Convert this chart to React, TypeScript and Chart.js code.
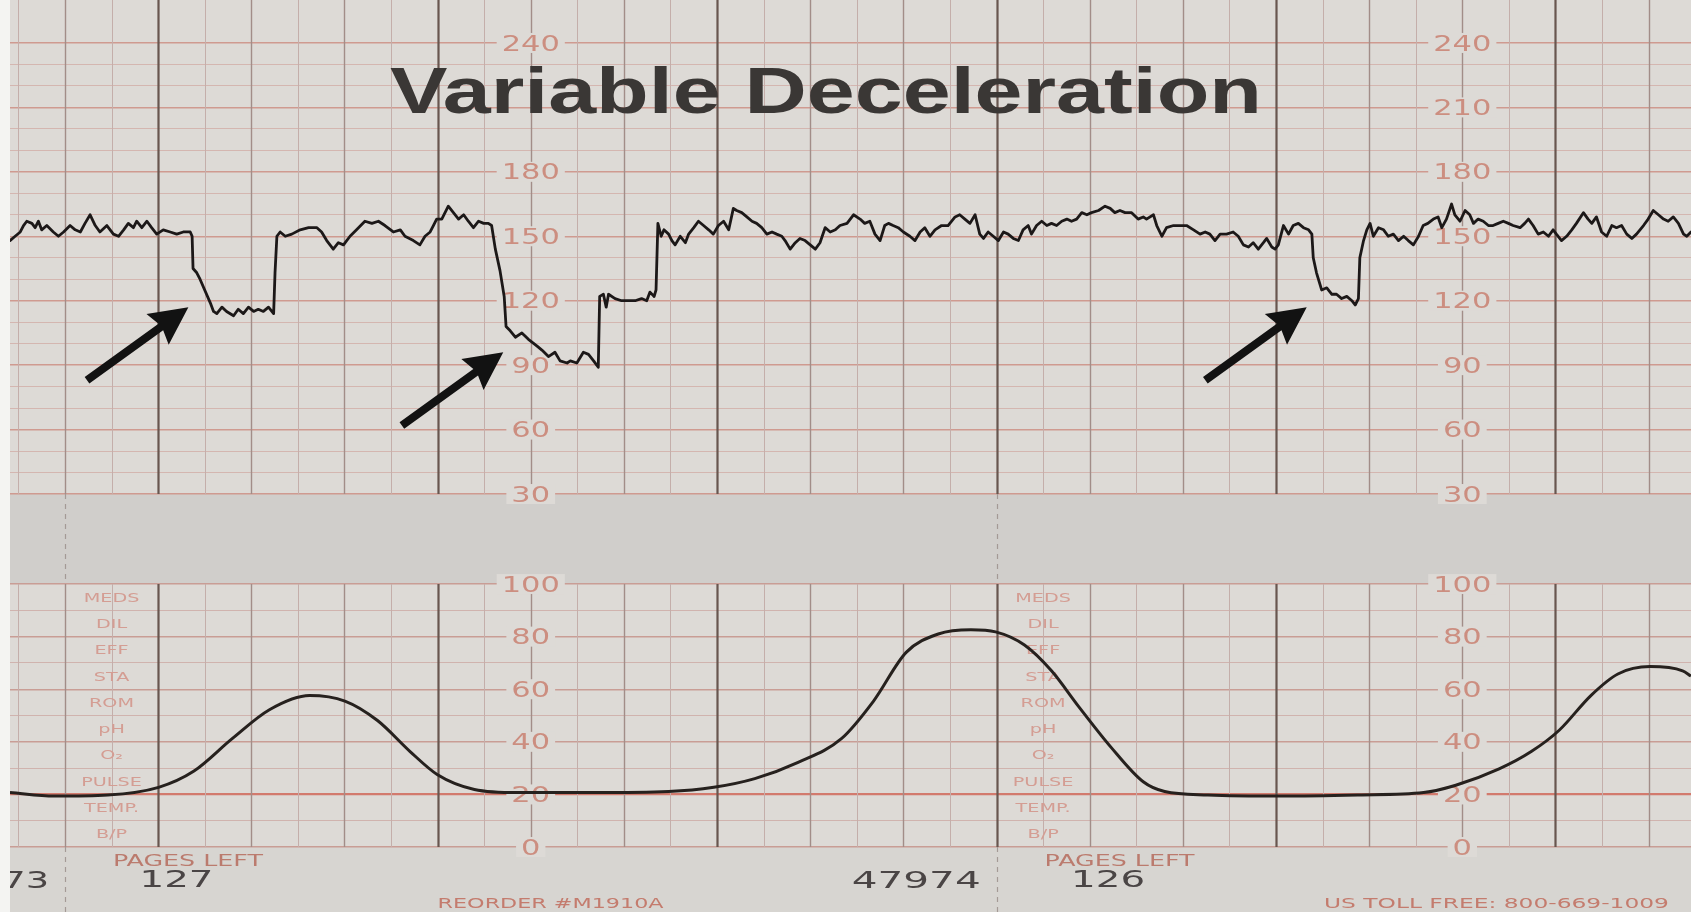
import { useEffect, useRef } from "react";
import { Chart, registerables } from "chart.js";

Chart.register(...registerables);

// ---------- DATA ----------
// time in seconds (0 = first bold minute line), fetal heart rate in bpm
const fhrTime = [
  -31.8, -30.7, -29.6, -28.9, -28.2, -27.1, -26.4, -25.7, -25.0, -23.9, -22.5, -21.4, -20.3, -18.9, -17.8, -16.7,
  -15.7, -14.6, -13.5, -12.5, -11.0, -9.6, -8.5, -7.4, -6.4, -5.3, -4.6, -3.5, -2.4, -1.4, -0.3, 1.1, 2.6, 4.0,
  5.4, 6.9, 7.3, 7.5, 8.3, 9.0, 11.2, 11.9, 12.6, 13.7, 14.7, 16.2, 17.2, 18.3, 19.4, 20.5, 21.5, 22.6, 23.7, 24.8,
  25.1, 25.5, 26.2, 27.3, 28.7, 30.5, 32.3, 34.1, 35.1, 36.2, 37.6, 38.7, 39.8, 41.2, 42.6, 44.4, 45.9, 47.3, 48.7,
  50.5, 52.0, 53.0, 54.8, 56.2, 57.3, 58.4, 59.1, 59.8, 60.9, 62.3, 63.4, 64.5, 65.6, 66.6, 67.7, 68.8, 69.9, 70.9,
  71.6, 72.4, 73.4, 74.3, 74.7, 75.6, 76.7, 78.1, 79.5, 81.3, 82.4, 83.8, 85.2, 86.3, 87.8, 88.5, 89.9, 91.3, 92.4,
  93.5, 94.5, 94.8, 95.6, 96.2, 96.7, 98.1, 99.5, 101.0, 102.4, 103.8, 104.9, 105.6, 106.5, 106.9, 107.3, 108.0,
  108.6, 109.6, 110.3, 111.0, 112.1, 113.2, 113.9, 115.0, 116.0, 117.1, 118.2, 119.2, 120.3, 121.4, 122.5, 123.5,
  124.2, 125.3, 126.4, 127.5, 128.5, 129.6, 130.7, 131.8, 132.8, 133.9, 134.6, 135.7, 136.8, 137.8, 138.9, 140.0,
  141.1, 142.1, 143.2, 144.3, 145.4, 146.4, 147.9, 149.3, 150.7, 151.7, 152.8, 153.9, 155.0, 156.0, 156.8, 157.8,
  158.9, 160.0, 161.4, 162.5, 163.6, 164.6, 165.7, 166.8, 168.2, 169.6, 171.1, 172.1, 173.2, 174.3, 175.4, 176.4,
  177.2, 178.2, 179.3, 180.4, 181.5, 182.5, 183.6, 184.7, 185.7, 186.8, 187.5, 188.6, 189.7, 190.8, 191.8, 192.9,
  194.0, 195.1, 196.1, 197.2, 198.3, 199.4, 200.4, 201.9, 203.3, 204.4, 205.4, 206.5, 207.6, 209.0, 210.4, 211.5,
  212.2, 213.7, 214.4, 215.5, 216.5, 218.0, 219.4, 220.8, 222.3, 223.7, 224.8, 225.8, 226.9, 228.0, 229.4, 230.8,
  231.9, 233.0, 234.1, 235.1, 236.2, 237.3, 238.0, 239.1, 239.8, 240.5, 241.6, 242.7, 243.7, 244.8, 245.9, 247.0,
  247.7, 248.0, 248.7, 249.8, 250.9, 252.0, 253.0, 254.1, 255.2, 256.3, 257.0, 257.7, 258.0, 258.8, 259.5, 260.2,
  260.9, 262.0, 263.1, 264.1, 265.2, 266.3, 267.4, 268.4, 269.5, 270.6, 271.6, 272.6, 273.8, 274.8, 275.6, 276.6,
  277.7, 278.4, 279.5, 280.6, 281.6, 282.4, 283.4, 284.5, 285.6, 286.6, 287.7, 288.8, 289.9, 290.9, 292.4, 293.4,
  294.2, 295.2, 296.3, 297.4, 298.5, 299.5, 300.2, 301.3, 302.4, 303.5, 304.5, 306.0, 307.0, 307.8, 308.8, 309.9,
  311.0, 312.1, 313.1, 314.2, 315.3, 316.4, 317.4, 318.9, 319.9, 321.0, 322.1, 323.2, 324.2, 325.3, 326.4, 327.5,
  328.2, 329.1,
];
const fhrBpm = [
  148, 150, 152, 155, 157, 156, 154, 157, 153, 155, 152, 150, 152, 155, 153, 152,
  156, 160, 155, 152, 155, 151, 150, 153, 156, 154, 157, 154, 157, 154, 151, 153, 152, 151,
  152, 152, 150, 135, 133, 130, 119, 115, 114, 117, 115, 113, 116, 114, 117, 115, 116, 115, 117, 114,
  133, 150, 152, 150, 151, 153, 154, 154, 152, 148, 144, 147, 146, 150, 153, 157, 156, 157, 155,
  152, 153, 150, 148, 146, 150, 152, 155, 158, 158, 164, 161, 158, 160, 157, 154, 157, 156, 156,
  155, 144, 134, 122, 108, 106, 103, 105, 102, 99, 97, 94, 96, 92, 91, 92, 91, 96, 95,
  92, 89, 122, 123, 117, 123, 121, 120, 120, 120, 121, 120, 124, 122, 125, 156, 150,
  153, 151, 148, 146, 150, 147, 151, 154, 157, 155, 153, 151, 155, 157, 153, 163,
  162, 161, 159, 157, 156, 154, 151, 152, 151, 150, 148, 144, 147, 149, 148, 146,
  144, 147, 154, 152, 153, 155, 156, 160, 158, 156, 157, 151, 148, 155, 156, 155,
  154, 152, 150, 148, 152, 154, 150, 153, 155, 155, 159, 160, 158, 156, 160, 151,
  149, 152, 150, 148, 152, 151, 149, 148, 153, 155, 151, 155, 157, 155, 156, 155,
  157, 158, 157, 158, 161, 160, 161, 162, 164, 163, 161, 162, 161, 161, 158, 159,
  158, 160, 155, 150, 154, 155, 155, 155, 153, 151, 152, 151, 148, 151, 151, 152,
  150, 146, 145, 147, 144, 147, 149, 145, 144, 146, 155, 151, 155, 156, 154, 153,
  151, 140, 133, 125, 126, 123, 123, 121, 122, 120, 118, 121, 140, 148, 153, 156,
  150, 154, 153, 150, 151, 148, 150, 148, 146, 150, 155, 156, 158, 159, 154, 158,
  165, 160, 157, 162, 160, 156, 158, 157, 155, 155, 156, 157, 156, 155, 154, 156,
  158, 155, 151, 152, 150, 153, 151, 148, 150, 153, 156, 161, 158, 156, 159, 152,
  150, 155, 154, 155, 151, 149, 151, 155, 158, 162, 160, 158, 157, 159, 156, 151,
  150, 152,
];

// uterine activity (mmHg) on the same time axis
const ucTime = [
  -31.8, -22.3, -10.8, 0.1, 7.7, 15.9, 23.9, 32.5, 40.1, 47.1, 54.1, 59.9, 67.9, 77.2, 93.4, 109.6, 119.3, 128.1,
  137.4, 146.7, 153.6, 160.6, 167.5, 174.5, 179.8, 186.0, 191.8, 197.6, 204.6, 211.5, 216.1, 225.4, 241.3, 257.8,
  271.7, 278.6, 287.9, 294.8, 300.8, 307.6, 313.4, 320.3, 327.3, 329.1,
];
const ucValue = [
  20.7, 19.4, 19.8, 22.7, 28.9, 41.2, 52.2, 57.6, 55.5, 48.1, 36.3, 27.6, 21.9, 20.7, 20.7, 21.1, 22.7, 26,
  32.2, 41.2, 55.5, 74, 81, 82.6, 81.8, 76.8, 67, 53.5, 37.9, 24.8, 21.1, 19.8, 19.4, 19.8,
  20.7, 23.5, 29.7, 36.3, 44.4, 57.6, 65.8, 68.6, 67, 65,
];

// axis / paper furniture
const fhrGridLines = [30, 40, 50, 60, 70, 80, 90, 100, 110, 120, 130, 140, 150, 160, 170, 180, 190, 200, 210, 220, 230, 240];
const ucGridLines = [0, 10, 20, 30, 40, 50, 60, 70, 80, 90, 100];
const fhrTickLabelsLeft = [240, 180, 150, 120, 90, 60, 30];
const fhrTickLabelsRight = [240, 210, 180, 150, 120, 90, 60, 30];
const ucTickLabels = [100, 80, 60, 40, 20, 0];
const labelColumns = [80, 280];
const pageStarts = [-20, 180];
const noteRows = ["MEDS", "DIL", "EFF", "STA", "ROM", "pH", "O₂", "PULSE", "TEMP.", "B/P"];
const noteRowValues = [95, 85, 75, 65, 55, 45, 35, 25, 15, 5];
const pageSerials = ["73", "47974"];
const pagesLeftValues = ["127", "126"];
const footerNotes = ["REORDER #M1910A", "US TOLL FREE: 800-669-1009"];
const arrowTipTime = [6.5, 74.1, 246.6];
const arrowTipBpm = [117, 96, 117];
const titleText = "Variable Deceleration";

// ---------- STYLE ----------
const PAPER = "#dddad6";
const BAND = "#d0cecb";
const LABEL = "#cc8e80";
const NUM_FONT = '"DejaVu Sans", sans-serif';

function wideText(ctx: CanvasRenderingContext2D, text: string, x: number, y: number, font: string, color: string, sx: number, align: string, targetW?: number) {
  ctx.save();
  ctx.font = font;
  ctx.fillStyle = color;
  ctx.textAlign = "left";
  ctx.textBaseline = "alphabetic";
  const nat = ctx.measureText(text).width;
  const s = targetW ? targetW / nat : sx;
  const w = nat * s;
  const left = align === "center" ? x - w / 2 : align === "right" ? x - w : x;
  ctx.translate(left, y);
  ctx.scale(s, 1);
  ctx.fillText(text, 0, 0);
  ctx.restore();
  return w;
}

const paperPlugin = {
  id: "paper",
  beforeDraw(chart: any) {
    const { ctx, width, height, chartArea: a, scales } = chart;
    const yF = scales.yF;
    const yU = scales.yU;
    ctx.save();
    ctx.fillStyle = "#f4f4f2";
    ctx.fillRect(0, 0, width, height);
    ctx.fillStyle = PAPER;
    ctx.fillRect(a.left, 0, a.right - a.left, height);
    const b0 = yF.getPixelForValue(30);
    const b1 = yU.getPixelForValue(100);
    ctx.fillStyle = BAND;
    ctx.fillRect(a.left, b0, a.right - a.left, b1 - b0);
    ctx.fillStyle = "#d7d5d1";
    const f0 = yU.getPixelForValue(0);
    ctx.fillRect(a.left, f0, a.right - a.left, height - f0);
    ctx.restore();
  },
};

const gridPlugin = {
  id: "paperGrid",
  beforeDatasetsDraw(chart: any) {
    const { ctx, chartArea: a, scales } = chart;
    const xS = scales.x;
    const yF = scales.yF;
    const yU = scales.yU;
    const topA = a.top;
    const topB = yF.getPixelForValue(30);
    const botA = yU.getPixelForValue(100);
    const botB = yU.getPixelForValue(0);
    ctx.save();
    const kinds = [
      { k: 1, color: "#c4aeaa", w: 1 },
      { k: 2, color: "#a28d88", w: 1.4 },
      { k: 3, color: "#68564f", w: 2.2 },
    ];
    for (const kind of kinds) {
      ctx.strokeStyle = kind.color;
      ctx.lineWidth = kind.w;
      ctx.beginPath();
      for (let t = -30; t <= xS.max; t += 10) {
        const m = ((t % 60) + 60) % 60;
        const k = m === 0 ? 3 : m === 20 || m === 40 ? 2 : 1;
        if (k !== kind.k) continue;
        const px = Math.round(xS.getPixelForValue(t)) + 0.5;
        ctx.moveTo(px, topA);
        ctx.lineTo(px, topB);
        ctx.moveTo(px, botA);
        ctx.lineTo(px, botB);
      }
      ctx.stroke();
    }
    // page-break markers in the band and footer
    ctx.strokeStyle = "#a49a96";
    ctx.lineWidth = 1.2;
    ctx.setLineDash([5, 5]);
    ctx.beginPath();
    for (const p of pageStarts) {
      const px = Math.round(xS.getPixelForValue(p)) + 0.5;
      ctx.moveTo(px, topB);
      ctx.lineTo(px, botA);
      ctx.moveTo(px, botB);
      ctx.lineTo(px, chart.height);
    }
    ctx.stroke();
    ctx.setLineDash([]);

    // scale numbers with paper background
    const drawLab = (val: number, x: number, y: number) => {
      const txt = String(val);
      ctx.save();
      ctx.font = `21px ${NUM_FONT}`;
      const w = ctx.measureText(txt).width * 1.45;
      ctx.fillStyle = PAPER;
      ctx.fillRect(x - w / 2 - 5, y - 10, w + 10, 20);
      ctx.restore();
      wideText(ctx, txt, x, y + 7.6, `21px ${NUM_FONT}`, LABEL, 1.45, "center");
    };
    labelColumns.forEach((c, ci) => {
      const x = xS.getPixelForValue(c);
      const fl = ci === 0 ? fhrTickLabelsLeft : fhrTickLabelsRight;
      for (const v of fl) drawLab(v, x, yF.getPixelForValue(v));
      for (const v of ucTickLabels) drawLab(v, x, yU.getPixelForValue(v));
    });
    // annotation rows in the contraction panel
    for (const p of pageStarts) {
      const x = xS.getPixelForValue(p + 10);
      noteRows.forEach((r, i) => {
        wideText(ctx, r, x, yU.getPixelForValue(noteRowValues[i]) + 4.5, `12px ${NUM_FONT}`, "#d49d93", 1.6, "center");
      });
    }
    ctx.restore();
  },
  afterDatasetsDraw(chart: any) {
    const { ctx, scales } = chart;
    const xS = scales.x;
    const yF = scales.yF;
    ctx.save();
    // arrows
    const ux = 0.811;
    const uy = -0.585;
    const L = 125;
    const headL = 38;
    const headW = 19;
    const shaftW = 8;
    const qx = -uy;
    const qy = ux;
    ctx.fillStyle = "#121212";
    arrowTipTime.forEach((t, i) => {
      const tx = xS.getPixelForValue(t);
      const ty = yF.getPixelForValue(arrowTipBpm[i]);
      const bx = tx - ux * headL;
      const by = ty - uy * headL;
      const ex = tx - ux * L;
      const ey = ty - uy * L;
      ctx.beginPath();
      ctx.moveTo(tx, ty);
      ctx.lineTo(bx + qx * headW, by + qy * headW);
      ctx.lineTo(bx + ux * 4 + qx * shaftW / 2, by + uy * 4 + qy * shaftW / 2);
      ctx.lineTo(ex + qx * shaftW / 2, ey + qy * shaftW / 2);
      ctx.lineTo(ex - qx * shaftW / 2, ey - qy * shaftW / 2);
      ctx.lineTo(bx + ux * 4 - qx * shaftW / 2, by + uy * 4 - qy * shaftW / 2);
      ctx.lineTo(bx - qx * headW, by - qy * headW);
      ctx.closePath();
      ctx.fill();
    });
    // title
    wideText(ctx, titleText, 390, 113, 'bold 64px "Liberation Sans", Arial, sans-serif', "#3a3735", 1, "left", 872);
    ctx.restore();
  },
  afterDraw(chart: any) {
    const { ctx, scales, chartArea: a } = chart;
    const xS = scales.x;
    ctx.save();
    ctx.beginPath();
    ctx.rect(a.left, 0, a.right - a.left, chart.height);
    ctx.clip();
    const noteOffsets = [80, 70.3];
    const noteWidths = [226, 345];
    pageStarts.forEach((p, i) => {
      const serialW = pageSerials[i].length * 27.4 - 8;
      wideText(ctx, pageSerials[i], xS.getPixelForValue(p - 3.4), 888, `23px ${NUM_FONT}`, "#4a4545", 1, "right", serialW);
      wideText(ctx, "PAGES LEFT", xS.getPixelForValue(p + 10.3), 866, `16px ${NUM_FONT}`, "#bb7b6e", 1, "left", 150);
      wideText(ctx, pagesLeftValues[i], xS.getPixelForValue(p + 16), 887, `23px ${NUM_FONT}`, "#4a4545", 1, "left", 74);
      wideText(ctx, footerNotes[i], xS.getPixelForValue(p + noteOffsets[i]), 908, `14px ${NUM_FONT}`, "#c47c6e", 1, "left", noteWidths[i]);
    });
    ctx.restore();
  },
};

export default function App() {
  const ref = useRef<HTMLCanvasElement | null>(null);
  useEffect(() => {
    if (!ref.current) return;
    const fhrColor = (v: number) => (v % 30 === 0 ? "#cf9a90" : "#d4b6b0");
    const fhrWidth = (v: number) => (v % 30 === 0 ? 1.5 : 1);
    const ucColor = (v: number) => (v === 20 ? "#d27a6d" : v % 20 === 0 ? "#c99d95" : "#d0b3ae");
    const ucWidth = (v: number) => (v === 20 ? 2.2 : v % 20 === 0 ? 1.4 : 1);
    const chart = new Chart(ref.current, {
      type: "line",
      data: {
        datasets: [
          {
            label: "FHR",
            data: fhrTime.map((t, i) => ({ x: t, y: fhrBpm[i] })),
            yAxisID: "yF",
            borderColor: "#1c1818",
            borderWidth: 2.8,
            pointRadius: 0,
            tension: 0,
            borderJoinStyle: "round",
            borderCapStyle: "round",
          },
          {
            label: "UC",
            data: ucTime.map((t, i) => ({ x: t, y: ucValue[i] })),
            yAxisID: "yU",
            borderColor: "#26211e",
            borderWidth: 3,
            pointRadius: 0,
            cubicInterpolationMode: "monotone",
            borderJoinStyle: "round",
          },
        ],
      },
      options: {
        animation: false,
        responsive: false,
        devicePixelRatio: 1,
        events: [],
        layout: { padding: { left: 10, right: 0, top: 0, bottom: 0 } },
        plugins: { legend: { display: false }, tooltip: { enabled: false }, title: { display: false } },
        scales: {
          x: { type: "linear", display: false, min: -31.8, max: 329.1 },
          yF: {
            type: "linear",
            position: "left",
            min: -164.6,
            max: 260.0,
            ticks: { display: false },
            border: { display: false },
            grid: {
              drawTicks: false,
              color: (c: any) => fhrColor(c.tick.value),
              lineWidth: (c: any) => fhrWidth(c.tick.value),
            },
            afterBuildTicks: (s: any) => {
              s.ticks = fhrGridLines.map((v) => ({ value: v }));
            },
          },
          yU: {
            type: "linear",
            position: "left",
            min: -24.7,
            max: 322.05,
            ticks: { display: false },
            border: { display: false },
            grid: {
              drawTicks: false,
              color: (c: any) => ucColor(c.tick.value),
              lineWidth: (c: any) => ucWidth(c.tick.value),
            },
            afterBuildTicks: (s: any) => {
              s.ticks = ucGridLines.map((v) => ({ value: v }));
            },
          },
        },
      } as any,
      plugins: [paperPlugin, gridPlugin],
    });
    return () => chart.destroy();
  }, []);
  return (
    <div style={{ position: "fixed", left: 0, top: 0, width: 1691, height: 912, overflow: "hidden", background: "#fff" }}>
      <canvas ref={ref} width={1691} height={912} style={{ display: "block", width: 1691, height: 912 }} />
    </div>
  );
}
